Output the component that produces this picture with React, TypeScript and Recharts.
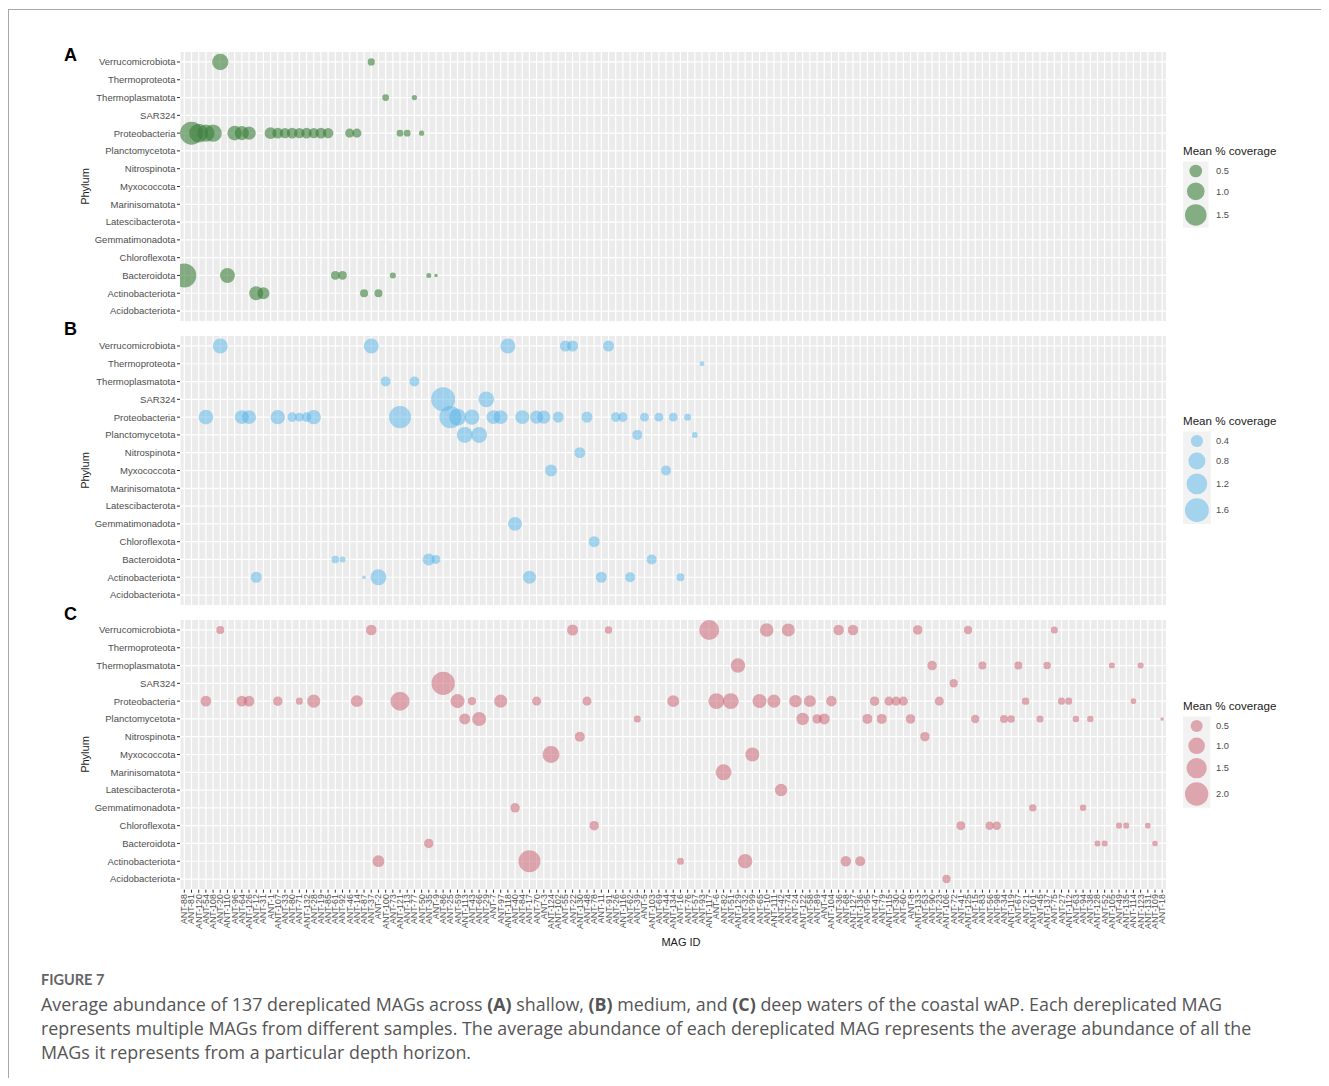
import React from "react";
import { ScatterChart, Scatter, XAxis, YAxis, ZAxis, CartesianGrid } from "recharts";

const FONT = '"Liberation Sans", Arial, Helvetica, sans-serif';

// Phyla, top to bottom as drawn
const phyla = [
  "Verrucomicrobiota", "Thermoproteota", "Thermoplasmatota", "SAR324", "Proteobacteria",
  "Planctomycetota", "Nitrospinota", "Myxococcota", "Marinisomatota", "Latescibacterota",
  "Gemmatimonadota", "Chloroflexota", "Bacteroidota", "Actinobacteriota", "Acidobacteriota",
];

// MAG IDs, left to right
const magIds = [
  "ANT-88", "ANT-81", "ANT-120", "ANT-54", "ANT-108", "ANT-20", "ANT-110", "ANT-96", "ANT-64", "ANT-126",
  "ANT-12", "ANT-31", "ANT-1", "ANT-107", "ANT-33", "ANT-80", "ANT-71", "ANT-132", "ANT-28", "ANT-19",
  "ANT-85", "ANT-61", "ANT-92", "ANT-46", "ANT-14", "ANT-87", "ANT-37", "ANT-2", "ANT-100", "ANT-73",
  "ANT-121", "ANT-13", "ANT-77", "ANT-50", "ANT-35", "ANT-9", "ANT-86", "ANT-25", "ANT-59", "ANT-113",
  "ANT-43", "ANT-66", "ANT-29", "ANT-7", "ANT-97", "ANT-118", "ANT-40", "ANT-84", "ANT-17", "ANT-70",
  "ANT-3", "ANT-124", "ANT-102", "ANT-55", "ANT-22", "ANT-130", "ANT-48", "ANT-78", "ANT-11", "ANT-91",
  "ANT-26", "ANT-116", "ANT-62", "ANT-39", "ANT-5", "ANT-103", "ANT-69", "ANT-44", "ANT-134", "ANT-16",
  "ANT-76", "ANT-57", "ANT-93", "ANT-117", "ANT-6", "ANT-82", "ANT-51", "ANT-129", "ANT-32", "ANT-99",
  "ANT-65", "ANT-10", "ANT-111", "ANT-42", "ANT-74", "ANT-24", "ANT-122", "ANT-58", "ANT-89", "ANT-4",
  "ANT-104", "ANT-36", "ANT-68", "ANT-127", "ANT-136", "ANT-95", "ANT-47", "ANT-79", "ANT-115", "ANT-30",
  "ANT-60", "ANT-8", "ANT-133", "ANT-53", "ANT-90", "ANT-23", "ANT-106", "ANT-72", "ANT-41", "ANT-125",
  "ANT-15", "ANT-83", "ANT-56", "ANT-98", "ANT-34", "ANT-119", "ANT-67", "ANT-21", "ANT-101", "ANT-45",
  "ANT-137", "ANT-75", "ANT-27", "ANT-112", "ANT-63", "ANT-94", "ANT-38", "ANT-128", "ANT-52", "ANT-105",
  "ANT-49", "ANT-135", "ANT-114", "ANT-123", "ANT-131", "ANT-109", "ANT-18",
];

// [phylum, MAG position (1-based in magIds), mean % coverage]
type Pt = [string, number, number];

const shallowPoints: Pt[] = [
  ["Verrucomicrobiota", 6, 0.85], ["Verrucomicrobiota", 27, 0.14],
  ["Thermoplasmatota", 29, 0.12], ["Thermoplasmatota", 33, 0.06],
  ["Proteobacteria", 2, 1.72], ["Proteobacteria", 3, 1.16], ["Proteobacteria", 4, 0.95], ["Proteobacteria", 5, 0.97],
  ["Proteobacteria", 8, 0.67], ["Proteobacteria", 9, 0.62], ["Proteobacteria", 10, 0.56],
  ["Proteobacteria", 13, 0.44], ["Proteobacteria", 14, 0.36], ["Proteobacteria", 15, 0.33], ["Proteobacteria", 16, 0.35],
  ["Proteobacteria", 17, 0.33], ["Proteobacteria", 18, 0.34], ["Proteobacteria", 19, 0.33], ["Proteobacteria", 20, 0.35],
  ["Proteobacteria", 21, 0.33], ["Proteobacteria", 24, 0.24], ["Proteobacteria", 25, 0.24],
  ["Proteobacteria", 31, 0.12], ["Proteobacteria", 32, 0.12], ["Proteobacteria", 34, 0.06],
  ["Bacteroidota", 1, 1.87], ["Bacteroidota", 7, 0.71], ["Bacteroidota", 22, 0.22], ["Bacteroidota", 23, 0.22],
  ["Bacteroidota", 30, 0.09], ["Bacteroidota", 35, 0.05], ["Bacteroidota", 36, 0.01],
  ["Actinobacteriota", 11, 0.62], ["Actinobacteriota", 12, 0.44], ["Actinobacteriota", 26, 0.18], ["Actinobacteriota", 28, 0.18],
];

const mediumPoints: Pt[] = [
  ["Verrucomicrobiota", 6, 0.62], ["Verrucomicrobiota", 27, 0.62], ["Verrucomicrobiota", 46, 0.62],
  ["Verrucomicrobiota", 54, 0.32], ["Verrucomicrobiota", 55, 0.32], ["Verrucomicrobiota", 60, 0.32],
  ["Thermoproteota", 73, 0.04],
  ["Thermoplasmatota", 29, 0.26], ["Thermoplasmatota", 33, 0.26],
  ["SAR324", 37, 1.62], ["SAR324", 43, 0.68],
  ["Proteobacteria", 4, 0.59], ["Proteobacteria", 9, 0.53], ["Proteobacteria", 10, 0.53], ["Proteobacteria", 14, 0.57],
  ["Proteobacteria", 16, 0.23], ["Proteobacteria", 17, 0.2], ["Proteobacteria", 18, 0.23], ["Proteobacteria", 19, 0.57],
  ["Proteobacteria", 31, 1.36], ["Proteobacteria", 38, 1.36], ["Proteobacteria", 39, 0.8], ["Proteobacteria", 41, 0.62],
  ["Proteobacteria", 44, 0.53], ["Proteobacteria", 45, 0.53], ["Proteobacteria", 48, 0.53], ["Proteobacteria", 50, 0.46],
  ["Proteobacteria", 51, 0.46], ["Proteobacteria", 53, 0.32], ["Proteobacteria", 57, 0.32], ["Proteobacteria", 61, 0.23],
  ["Proteobacteria", 62, 0.23], ["Proteobacteria", 65, 0.2], ["Proteobacteria", 67, 0.2], ["Proteobacteria", 69, 0.2],
  ["Proteobacteria", 71, 0.11],
  ["Planctomycetota", 40, 0.7], ["Planctomycetota", 42, 0.7], ["Planctomycetota", 64, 0.26], ["Planctomycetota", 72, 0.07],
  ["Nitrospinota", 56, 0.32],
  ["Myxococcota", 52, 0.38], ["Myxococcota", 68, 0.26],
  ["Gemmatimonadota", 47, 0.53],
  ["Chloroflexota", 58, 0.32],
  ["Bacteroidota", 22, 0.13], ["Bacteroidota", 23, 0.07], ["Bacteroidota", 35, 0.38], ["Bacteroidota", 36, 0.2],
  ["Bacteroidota", 66, 0.26],
  ["Actinobacteriota", 11, 0.32], ["Actinobacteriota", 26, 0.01], ["Actinobacteriota", 28, 0.7], ["Actinobacteriota", 49, 0.46],
  ["Actinobacteriota", 59, 0.32], ["Actinobacteriota", 63, 0.26], ["Actinobacteriota", 70, 0.15],
];

const deepPoints: Pt[] = [
  ["Verrucomicrobiota", 6, 0.2], ["Verrucomicrobiota", 27, 0.39], ["Verrucomicrobiota", 55, 0.42], ["Verrucomicrobiota", 60, 0.17],
  ["Verrucomicrobiota", 74, 1.46], ["Verrucomicrobiota", 82, 0.65], ["Verrucomicrobiota", 85, 0.6], ["Verrucomicrobiota", 92, 0.38],
  ["Verrucomicrobiota", 94, 0.38], ["Verrucomicrobiota", 103, 0.3], ["Verrucomicrobiota", 110, 0.23], ["Verrucomicrobiota", 122, 0.15],
  ["Thermoplasmatota", 78, 0.75], ["Thermoplasmatota", 105, 0.3], ["Thermoplasmatota", 112, 0.2], ["Thermoplasmatota", 117, 0.2],
  ["Thermoplasmatota", 121, 0.17], ["Thermoplasmatota", 130, 0.1], ["Thermoplasmatota", 134, 0.1],
  ["SAR324", 37, 2.0], ["SAR324", 108, 0.23],
  ["Proteobacteria", 4, 0.39], ["Proteobacteria", 9, 0.39], ["Proteobacteria", 10, 0.39], ["Proteobacteria", 14, 0.3],
  ["Proteobacteria", 17, 0.15], ["Proteobacteria", 19, 0.6], ["Proteobacteria", 25, 0.5], ["Proteobacteria", 31, 1.32],
  ["Proteobacteria", 39, 0.7], ["Proteobacteria", 41, 0.23], ["Proteobacteria", 45, 0.6], ["Proteobacteria", 50, 0.27],
  ["Proteobacteria", 57, 0.27], ["Proteobacteria", 69, 0.5], ["Proteobacteria", 75, 0.92], ["Proteobacteria", 77, 0.92],
  ["Proteobacteria", 81, 0.7], ["Proteobacteria", 83, 0.6], ["Proteobacteria", 86, 0.55], ["Proteobacteria", 88, 0.5],
  ["Proteobacteria", 91, 0.38], ["Proteobacteria", 97, 0.3], ["Proteobacteria", 99, 0.27], ["Proteobacteria", 100, 0.27],
  ["Proteobacteria", 101, 0.27], ["Proteobacteria", 106, 0.27], ["Proteobacteria", 118, 0.17], ["Proteobacteria", 123, 0.15],
  ["Proteobacteria", 124, 0.15], ["Proteobacteria", 133, 0.08],
  ["Planctomycetota", 40, 0.42], ["Planctomycetota", 42, 0.7], ["Planctomycetota", 64, 0.15], ["Planctomycetota", 87, 0.55],
  ["Planctomycetota", 89, 0.3], ["Planctomycetota", 90, 0.42], ["Planctomycetota", 96, 0.34], ["Planctomycetota", 98, 0.34],
  ["Planctomycetota", 102, 0.3], ["Planctomycetota", 111, 0.23], ["Planctomycetota", 115, 0.2], ["Planctomycetota", 116, 0.17],
  ["Planctomycetota", 120, 0.15], ["Planctomycetota", 125, 0.12], ["Planctomycetota", 127, 0.12], ["Planctomycetota", 137, 0.01],
  ["Nitrospinota", 56, 0.34], ["Nitrospinota", 104, 0.3],
  ["Myxococcota", 52, 1.05], ["Myxococcota", 80, 0.7],
  ["Marinisomatota", 76, 0.92],
  ["Latescibacterota", 84, 0.55],
  ["Gemmatimonadota", 47, 0.3], ["Gemmatimonadota", 119, 0.17], ["Gemmatimonadota", 126, 0.12],
  ["Chloroflexota", 58, 0.3], ["Chloroflexota", 109, 0.27], ["Chloroflexota", 113, 0.23], ["Chloroflexota", 114, 0.23],
  ["Chloroflexota", 131, 0.1], ["Chloroflexota", 132, 0.1], ["Chloroflexota", 135, 0.08],
  ["Bacteroidota", 35, 0.3], ["Bacteroidota", 128, 0.1], ["Bacteroidota", 129, 0.1], ["Bacteroidota", 136, 0.08],
  ["Actinobacteriota", 28, 0.48], ["Actinobacteriota", 49, 1.78], ["Actinobacteriota", 70, 0.15], ["Actinobacteriota", 79, 0.75],
  ["Actinobacteriota", 93, 0.38], ["Actinobacteriota", 95, 0.34],
  ["Acidobacteriota", 107, 0.23],
];

const shallowBreaks = [0.5, 1.0, 1.5];
const mediumBreaks = [0.4, 0.8, 1.2, 1.6];
const deepBreaks = [0.5, 1.0, 1.5, 2.0];

const xTicks = magIds.map((_, i) => i + 1);
const yTicks = phyla.map((_, i) => i + 1);

const toRows = (pts: Pt[]) =>
  pts.map(([phylum, pos, cov]) => ({
    x: pos,
    y: phyla.length - phyla.indexOf(phylum),
    z: cov,
    mag: magIds[pos - 1],
    phylum,
  }));

type Panel = {
  letter: string;
  points: Pt[];
  breaks: number[];
  fill: string;
  opacity: number;
  zDomain: [number, number];
  zRange: [number, number];
  chartTop: number;
  height: number;
  marginTop: number;
  marginBottom: number;
  showX: boolean;
  letterY: number;
  titleY: number;
  legendStart: number;
};

const panels: Panel[] = [
  {
    letter: "A", points: shallowPoints, breaks: shallowBreaks, fill: "#3A7F3A", opacity: 0.6,
    zDomain: [0, 2], zRange: [8, 482], chartTop: 40, height: 290, marginTop: 11.3, marginBottom: 8.3,
    showX: false, letterY: 60.5, titleY: 186.5, legendStart: 161.5,
  },
  {
    letter: "B", points: mediumPoints, breaks: mediumBreaks, fill: "#56B4E9", opacity: 0.5,
    zDomain: [0, 2], zRange: [8, 556], chartTop: 325, height: 290, marginTop: 10.3, marginBottom: 9.3,
    showX: false, letterY: 334.5, titleY: 470.5, legendStart: 431.5,
  },
  {
    letter: "C", points: deepPoints, breaks: deepBreaks, fill: "#CC6677", opacity: 0.55,
    zDomain: [0, 2.5], zRange: [8, 530.5], chartTop: 609, height: 332, marginTop: 10.3, marginBottom: 1.3,
    showX: true, letterY: 619.5, titleY: 754.5, legendStart: 716.5,
  },
];

const areaOf = (p: Panel, v: number) =>
  p.zRange[0] + ((p.zRange[1] - p.zRange[0]) * (v - p.zDomain[0])) / (p.zDomain[1] - p.zDomain[0]);
const diamOf = (p: Panel, v: number) => 2 * Math.sqrt(areaOf(p, v) / Math.PI);

const MagTick = (props: any) => {
  const { x, y, payload } = props;
  return (
    <text
      x={x}
      y={y}
      transform={`rotate(-90, ${x}, ${y})`}
      textAnchor="end"
      dominantBaseline="central"
      fontSize={8.8}
      fontFamily={FONT}
      fill="#4D4D4D"
    >
      {magIds[payload.value - 1]}
    </text>
  );
};

const NoTick = () => <g />;

const PanelChart = ({ p }: { p: Panel }) => (
  <div style={{ position: "absolute", left: 32, top: p.chartTop - 8 }}>
    <ScatterChart
      width={1140}
      height={p.height}
      margin={{ top: p.marginTop, right: 13.5, bottom: p.marginBottom, left: 10 }}
    >
      <CartesianGrid fill="#EBEBEB" stroke="#FFFFFF" strokeWidth={1.2} />
      {p.showX ? (
        <XAxis
          type="number"
          dataKey="x"
          domain={[0.4, 137.6]}
          ticks={xTicks}
          interval={0}
          allowDataOverflow
          height={50}
          axisLine={false}
          tickLine={{ stroke: "#333333" }}
          tickSize={3}
          tickMargin={1.5}
          tick={(tp: any) => <MagTick {...tp} />}
        />
      ) : (
        <XAxis
          type="number"
          dataKey="x"
          domain={[0.4, 137.6]}
          ticks={xTicks}
          interval={0}
          allowDataOverflow
          height={0}
          axisLine={false}
          tickLine={false}
          tickSize={0}
          tick={(tp: any) => <NoTick />}
        />
      )}
      <YAxis
        type="number"
        dataKey="y"
        domain={[0.4, 15.6]}
        ticks={yTicks}
        interval={0}
        allowDataOverflow
        width={130}
        axisLine={false}
        tickLine={{ stroke: "#333333" }}
        tickSize={3}
        tickMargin={1.5}
        tick={{ fontSize: 9.5, fill: "#4D4D4D", fontFamily: FONT }}
        tickFormatter={(v: number) => phyla[phyla.length - v]}
      />
      <ZAxis type="number" dataKey="z" domain={p.zDomain} range={p.zRange} />
      <Scatter
        data={toRows(p.points)}
        fill={p.fill}
        fillOpacity={p.opacity}
        isAnimationActive={false}
      />
    </ScatterChart>
  </div>
);

const LegendBlock = ({ p }: { p: Panel }) => {
  const diams = p.breaks.map((b) => diamOf(p, b));
  const heights = diams.map((d) => Math.max(19, d + 4));
  const kw = Math.max(19, Math.max(...diams) + 4);
  const total = heights.reduce((a, b) => a + b, 0);
  const left = 1183;
  let acc = p.legendStart;
  return (
    <g>
      <text x={left} y={p.legendStart - 10.5 + 4} fontSize={11.6} fill="#1A1A1A" fontFamily={FONT}>
        Mean % coverage
      </text>
      <rect x={left} y={p.legendStart} width={kw} height={total} fill="#F2F2F2" />
      {p.breaks.map((b, i) => {
        const cy = acc + heights[i] / 2;
        acc += heights[i];
        return (
          <g key={b}>
            <circle cx={left + kw / 2} cy={cy} r={diams[i] / 2} fill={p.fill} fillOpacity={p.opacity} />
            <text x={1216} y={cy + 3.2} fontSize={9.3} fill="#4D4D4D" fontFamily={FONT}>
              {b.toFixed(1)}
            </text>
          </g>
        );
      })}
    </g>
  );
};

export default function App() {
  return (
    <div style={{ position: "relative", width: 1321, height: 1070, overflow: "hidden", background: "#fff" }}>
      <div
        style={{
          position: "absolute",
          left: 0,
          top: 1,
          width: 1321,
          height: 1069,
          borderTop: "1px solid #A8A8A8",
          borderLeft: "1px solid #A8A8A8",
          boxSizing: "border-box",
        }}
      />
      {panels.map((p) => (
        <PanelChart key={p.letter} p={p} />
      ))}
      <svg
        width={1321}
        height={1070}
        style={{ position: "absolute", left: 0, top: 0, pointerEvents: "none" }}
      >
        <g transform="translate(-8,-8)">
          {panels.map((p) => (
            <g key={p.letter}>
              <text x={64} y={p.letterY} fontSize={18} fontWeight={700} fill="#000" fontFamily={FONT}>
                {p.letter}
              </text>
              <text
                x={88.5}
                y={p.titleY}
                transform={`rotate(-90, 88.5, ${p.titleY})`}
                textAnchor="middle"
                fontSize={11}
                fill="#1A1A1A"
                fontFamily={FONT}
              >
                Phylum
              </text>
              <LegendBlock p={p} />
            </g>
          ))}
          <text x={681} y={946} textAnchor="middle" fontSize={11} fill="#1A1A1A" fontFamily={FONT}>
            MAG ID
          </text>
        </g>
      </svg>
      <div
        style={{
          position: "absolute",
          left: 33,
          top: 963,
          fontFamily: "Lato, 'Open Sans', sans-serif",
          fontSize: 14.5,
          fontWeight: 700,
          color: "#666",
          lineHeight: "18px",
          whiteSpace: "nowrap",
        }}
      >
        FIGURE 7
      </div>
      <div
        style={{
          position: "absolute",
          left: 33,
          top: 984,
          fontFamily: "'Open Sans', Lato, sans-serif",
          fontSize: 17.85,
          color: "#555555",
          lineHeight: "24px",
          whiteSpace: "nowrap",
        }}
      >
        Average abundance of 137 dereplicated MAGs across <b>(A)</b> shallow, <b>(B)</b> medium, and{" "}
        <b>(C)</b> deep waters of the coastal wAP. Each dereplicated MAG
        <br />
        represents multiple MAGs from different samples. The average abundance of each dereplicated MAG represents
        the average abundance of all the
        <br />
        MAGs it represents from a particular depth horizon.
      </div>
    </div>
  );
}
